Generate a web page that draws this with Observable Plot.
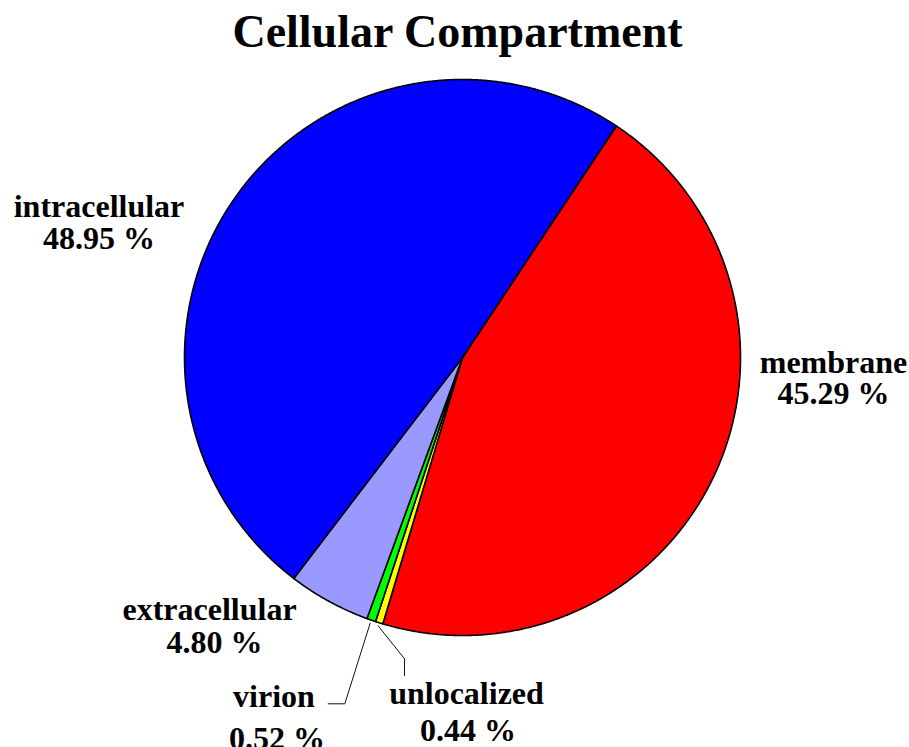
<!DOCTYPE html>
<html>
<head>
<meta charset="utf-8">
<script src="https://cdn.jsdelivr.net/npm/d3@7"></script>
<script src="https://cdn.jsdelivr.net/npm/@observablehq/plot@0.6"></script>
<style>
  html, body { margin: 0; padding: 0; background: #fff; }
  #title { width: 909px; height: 60px; padding-top: 2px; line-height: 60px; text-align: center;
           font-family: "Liberation Serif", "Times New Roman", serif; font-weight: bold; font-size: 46px;
           color: #000; text-indent: 6px; white-space: nowrap; }
</style>
</head>
<body>
<div id="title">Cellular Compartment</div>
<div id="chart"></div>
<script>
// ---- data ----
const categories = ["membrane", "unlocalized", "virion", "extracellular", "intracellular"];
const values = [45.29, 0.44, 0.52, 4.80, 48.95];
const colors = ["#ff0000", "#ffff00", "#00ff00", "#9999ff", "#0000ff"];
const percentLabels = ["45.29 %", "0.44 %", "0.52 %", "4.80 %", "48.95 %"];

// ---- layout (page pixels) ----
const W = 909, H = 685, TOP = 62;
const CX = 462, CY = 357, R = 278;      // pie centre & radius on page
const startDeg = 33.6;
// label placements: [centre x name, baseline name, centre x pct, baseline pct]
const labelPos = {
  membrane:      [833, 372, 833, 403],
  unlocalized:   [466, 703, 467.5, 740],
  virion:        [273.5, 706, 276.5, 748],
  extracellular: [209, 619, 214, 652.7],
  intracellular: [98.5, 216, 98.5, 248]
};
// leader line elbows (page pixels)
const leaders = {
  virion:      [[344.3, 703.3], [327.7, 703.3]],
  unlocalized: [[404, 658.3], [404, 675]]
};

const toU = px => (px - CX) / R;
const toV = py => (CY - py) / R;

const pie = d3.pie().sort(null)
  .startAngle(startDeg * Math.PI / 180)
  .endAngle(startDeg * Math.PI / 180 + 2 * Math.PI);
const arcs = pie(values);

const slices = arcs.map((a, i) => {
  const n = Math.max(2, Math.ceil((a.endAngle - a.startAngle) / (0.25 * Math.PI / 180)));
  const pts = [{x: 0, y: 0}];
  for (let k = 0; k <= n; k++) {
    const t = a.startAngle + (a.endAngle - a.startAngle) * k / n;
    pts.push({x: Math.sin(t), y: Math.cos(t)});
  }
  return {cat: categories[i], color: colors[i], pts};
});

const leaderPts = [];
Object.entries(leaders).forEach(([cat, elbows]) => {
  const a = arcs[categories.indexOf(cat)];
  const m = (a.startAngle + a.endAngle) / 2;
  leaderPts.push({cat, x: 1.012 * Math.sin(m), y: 1.012 * Math.cos(m)});
  elbows.forEach(([px, py]) => leaderPts.push({cat, x: toU(px), y: toV(py)}));
});

const labelRows = [];
categories.forEach((c, i) => {
  const p = labelPos[c];
  labelRows.push({text: c, x: toU(p[0]), y: toV(p[1])});
  labelRows.push({text: percentLabels[i], x: toU(p[2]), y: toV(p[3])});
});

const plot = Plot.plot({
  width: W, height: H,
  margin: 0,
  x: {domain: [toU(0), toU(W)], axis: null},
  y: {domain: [toV(TOP + H), toV(TOP)], axis: null},
  style: {fontFamily: "'Liberation Serif', 'Times New Roman', serif", background: "white"},
  marks: [
    ...slices.map(s => Plot.line(s.pts, {
      x: "x", y: "y", curve: "linear-closed",
      fill: s.color, stroke: "black", strokeWidth: 1.6, strokeLinejoin: "round"
    })),
    Plot.line(leaderPts, {x: "x", y: "y", z: "cat", stroke: "#111", strokeWidth: 1}),
    Plot.text(labelRows, {
      x: "x", y: "y", text: "text", lineAnchor: "bottom", textAnchor: "middle",
      fontSize: 32, fontWeight: "bold", fill: "black"
    })
  ]
});
document.getElementById("chart").appendChild(plot);
</script>
</body>
</html>
